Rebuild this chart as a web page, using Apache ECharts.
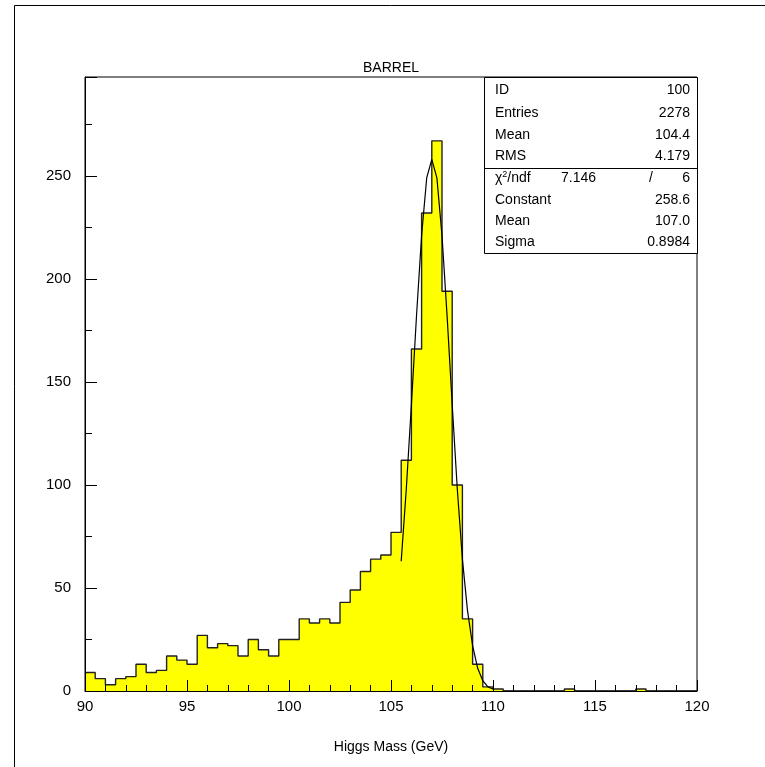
<!DOCTYPE html>
<html>
<head>
<meta charset="utf-8">
<script src="https://cdn.jsdelivr.net/npm/echarts@6/dist/echarts.min.js"></script>
<style>
html,body{margin:0;padding:0;background:#fff;}
#chart{width:765px;height:767px;}
</style>
</head>
<body>
<div id="chart"></div>
<script>
// ---- data ----
const binLow = 90;
const binWidth = 0.5;
const counts = [
  9, 6, 3, 6, 7, 13, 9, 10, 17, 15,
  13, 27, 21, 23, 22, 17, 25, 20, 17, 25,
  25, 35, 33, 35, 33, 43, 49, 58, 64, 66,
  77, 112, 166, 232, 267, 194, 100, 35, 13, 2,
  1, 0, 0, 0, 0, 0, 0, 1, 0, 0,
  0, 0, 0, 0, 1, 0, 0, 0, 0, 0
];
const fitX = [105.5, 105.75, 106, 106.25, 106.5, 106.75, 107, 107.25, 107.5, 107.75,
              108, 108.25, 108.5, 108.75, 109, 109.25, 109.5, 109.75, 110];
const fitY = [63, 98, 139, 182, 221, 249, 258, 249, 221, 182,
              139, 98, 64, 39, 22, 11, 5, 2, 1];
const xTicks = [90, 95, 100, 105, 110, 115, 120];
const yTicks = [0, 50, 100, 150, 200, 250];
const titleText = 'BARREL';
const xAxisTitle = 'Higgs Mass (GeV)';
const statLabels = ['ID', 'Entries', 'Mean', 'RMS'];
const statValues = ['100', '2278', '104.4', '4.179'];
const fitLabels = ['{c|χ}{s|2}{c|/ndf}', 'Constant', 'Mean', 'Sigma'];
const fitValues = ['6', '258.6', '107.0', '0.8984'];
const chi2Value = '7.146';

// ---- build ----
const FONT = 'Liberation Sans';
const stepData = counts.map((c, i) => [binLow + i * binWidth, c]);
stepData.push([binLow + counts.length * binWidth, counts[counts.length - 1]]);
const fitData = fitX.map((x, i) => [x, fitY[i]]);

const gx0 = 85, gx1 = 697, gy0 = 77, gy1 = 691;
const boxL = 484, boxSep = 168, boxB = 253;
const graphics = [];
// outer frame
graphics.push({type:'rect', shape:{x:14.5, y:5.5, width:800, height:800},
  style:{fill:'none', stroke:'#000', lineWidth:1}, silent:true});
// title
graphics.push({type:'text', x:(gx0+gx1)/2, y:68, style:{text:titleText, font:'14px '+FONT,
  fill:'#000', textAlign:'center', textVerticalAlign:'middle'}});
// stats box
graphics.push({type:'rect', shape:{x:boxL+0.5, y:gy0+0.5, width:gx1-boxL, height:boxB-gy0},
  style:{fill:'#fff', stroke:'#000', lineWidth:1}, z:10});
graphics.push({type:'line', shape:{x1:boxL, y1:boxSep+0.5, x2:gx1, y2:boxSep+0.5},
  style:{stroke:'#000', lineWidth:1}, z:11});
const rowY1 = [90, 113, 135, 156];
const rowY2 = [178, 200, 221, 242];
statLabels.forEach((t, i) => {
  graphics.push({type:'text', x:495, y:rowY1[i], z:12, style:{text:t, font:'14px '+FONT, fill:'#000', textVerticalAlign:'middle'}});
  graphics.push({type:'text', x:690, y:rowY1[i], z:12, style:{text:statValues[i], font:'14px '+FONT, fill:'#000', textAlign:'right', textVerticalAlign:'middle'}});
});
fitLabels.forEach((t, i) => {
  graphics.push({type:'text', x:495, y:rowY2[i], z:12, style:{text:t, font:'14px '+FONT, fill:'#000', textVerticalAlign:'middle',
    rich:{c:{font:'14px '+FONT, fill:'#000'}, s:{font:'9px '+FONT, fill:'#000', verticalAlign:'top', padding:[0,0,6,0]}}}});
  graphics.push({type:'text', x:690, y:rowY2[i], z:12, style:{text:fitValues[i], font:'14px '+FONT, fill:'#000', textAlign:'right', textVerticalAlign:'middle'}});
});
graphics.push({type:'text', x:596, y:rowY2[0], z:12, style:{text:chi2Value, font:'14px '+FONT, fill:'#000', textAlign:'right', textVerticalAlign:'middle'}});
graphics.push({type:'text', x:651, y:rowY2[0], z:12, style:{text:'/', font:'14px '+FONT, fill:'#000', textAlign:'center', textVerticalAlign:'middle'}});

const chart = echarts.init(document.getElementById('chart'), null, {renderer:'canvas'});
chart.setOption({
  animation:false,
  backgroundColor:'#fff',
  grid:{left:gx0, right:765-gx1, top:gy0, bottom:767-gy1, show:true, borderColor:'#000', borderWidth:1, backgroundColor:'transparent'},
  xAxis:{
    type:'value', min:xTicks[0], max:xTicks[xTicks.length-1], interval:5, z:6,
    name:xAxisTitle, nameLocation:'middle', nameGap:49,
    nameTextStyle:{fontFamily:FONT, fontSize:14, color:'#000'},
    axisLine:{show:true, lineStyle:{color:'#000', width:1}},
    axisTick:{show:true, inside:true, length:11, lineStyle:{color:'#000', width:1}},
    minorTick:{show:true, splitNumber:5, length:6, lineStyle:{color:'#000', width:1}},
    axisLabel:{fontFamily:FONT, fontSize:15, color:'#000', margin:8},
    splitLine:{show:false}
  },
  yAxis:{
    type:'value', min:yTicks[0], max:298, interval:50, z:6,
    axisLine:{show:true, lineStyle:{color:'#000', width:1}},
    axisTick:{show:true, inside:true, length:12, lineStyle:{color:'#000', width:1}},
    minorTick:{show:true, splitNumber:2, length:7, lineStyle:{color:'#000', width:1}},
    axisLabel:{fontFamily:FONT, fontSize:15, color:'#000', margin:14, showMaxLabel:false,
      formatter:v => (yTicks.indexOf(v) >= 0 ? String(v) : '')},
    splitLine:{show:false}
  },
  series:[
    {type:'line', step:'end', data:stepData, symbol:'none', z:2,
     lineStyle:{color:'#222', width:1.4},
     areaStyle:{color:'#ffff00', opacity:1}},
    {type:'line', data:fitData, symbol:'none', smooth:false, z:3,
     lineStyle:{color:'#000', width:1.2}}
  ],
  graphic:graphics
});
</script>
</body>
</html>
